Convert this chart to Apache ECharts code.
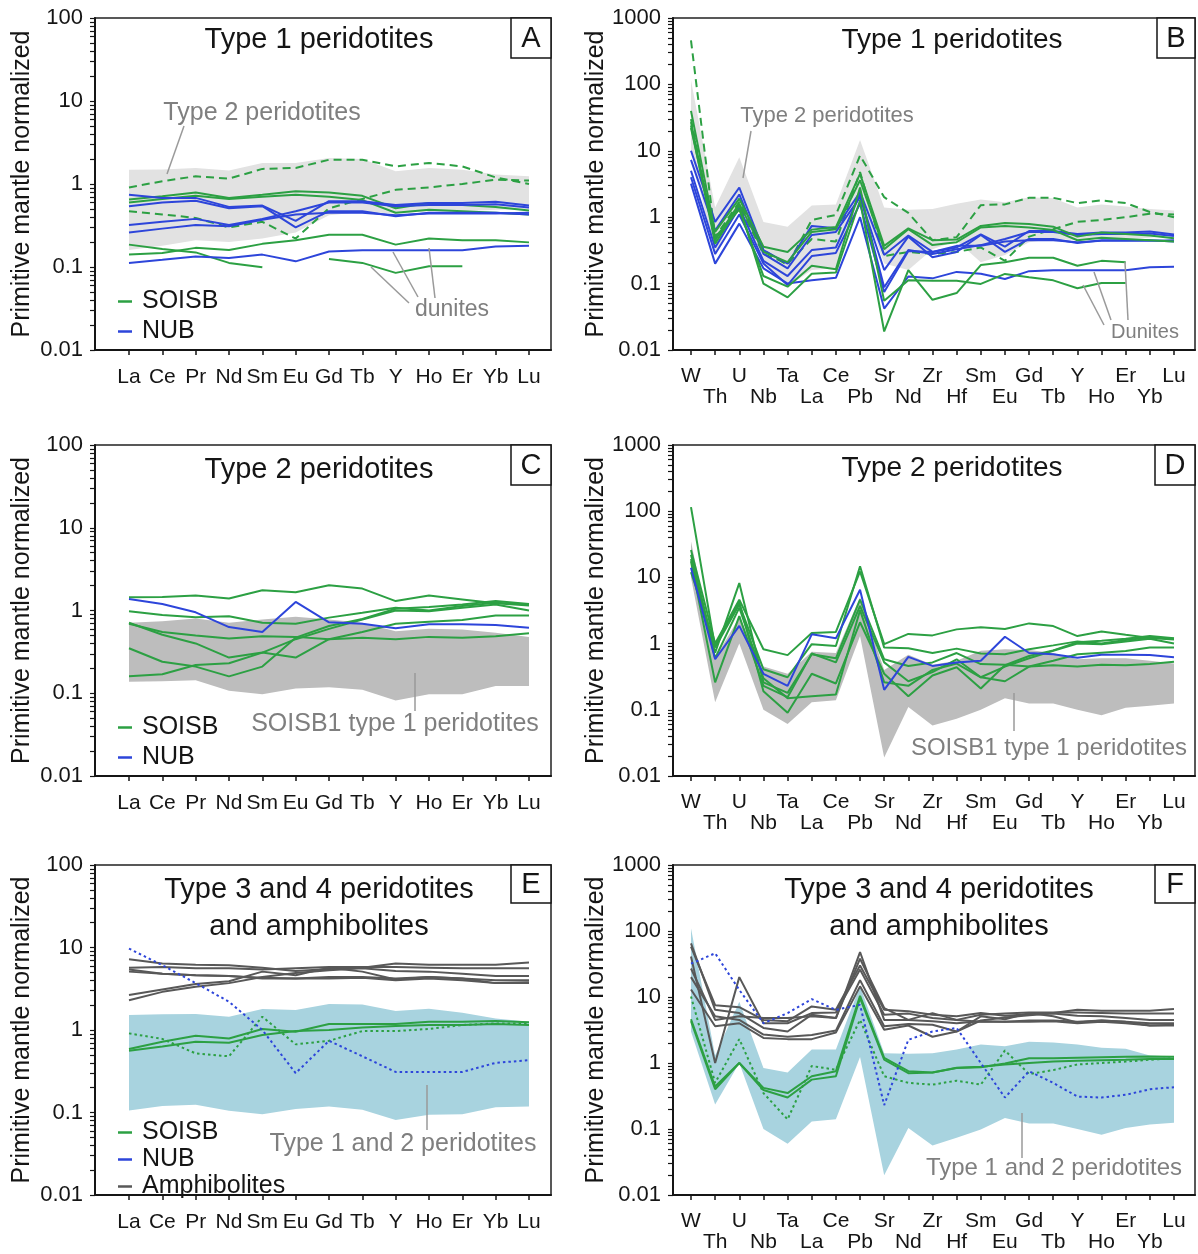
<!DOCTYPE html>
<html><head><meta charset="utf-8">
<script src="https://cdn.jsdelivr.net/npm/echarts@6/dist/echarts.min.js"></script>
<style>html,body{margin:0;padding:0;background:#fff}#c{width:1198px;height:1254px}</style>
</head><body><div id="c"></div>
<script>
// ---------- categories ----------
const REE = ['La','Ce','Pr','Nd','Sm','Eu','Gd','Tb','Y','Ho','Er','Yb','Lu'];
const EXT = ['W','Th','U','Nb','Ta','La','Ce','Pb','Sr','Nd','Zr','Hf','Sm','Eu','Gd','Tb','Y','Ho','Er','Yb','Lu'];
const Y_LABELS_L = [0.01,0.1,1,10,100];
const Y_LABELS_R = [0.01,0.1,1,10,100,1000];

// ---------- Panel A (REE, Type 1) ----------
const A_band_hi = [1.49,1.5,1.56,1.45,1.79,1.79,2.06,2.0,1.42,1.56,1.49,1.3,1.24];
const A_band_lo = [0.16,0.18,0.21,0.2,0.22,0.26,0.42,0.46,0.44,0.47,0.47,0.49,0.5];
const A_gd1 = [0.91,1.08,1.24,1.16,1.52,1.56,1.96,1.96,1.63,1.79,1.63,1.2,1.0];
const A_gd2 = [0.47,0.43,0.39,0.30,0.35,0.22,0.51,0.66,0.85,0.91,1.0,1.13,1.1];
const A_gs1 = [0.65,0.71,0.79,0.68,0.74,0.82,0.79,0.72,0.51,0.59,0.56,0.53,0.48];
const A_gs2 = [0.6,0.66,0.72,0.66,0.7,0.74,0.7,0.64,0.45,0.49,0.47,0.45,0.43];
const A_gs3 = [0.186,0.165,0.15,0.112,0.099,null,0.125,0.112,0.085,0.102,0.102,null,null];
const A_gs4 = [0.141,0.147,0.17,0.16,0.19,0.21,0.245,0.245,0.186,0.22,0.21,0.21,0.198];
const A_b1 = [0.74,0.68,0.68,0.53,0.55,0.36,0.62,0.62,0.56,0.59,0.59,0.61,0.55];
const A_b2 = [0.54,0.6,0.63,0.51,0.54,0.3,0.47,0.47,0.41,0.45,0.45,0.45,0.43];
const A_b3 = [0.32,0.35,0.38,0.32,0.38,0.47,0.6,0.6,0.54,0.56,0.56,0.57,0.52];
const A_b4 = [0.26,0.29,0.32,0.31,0.37,0.43,0.45,0.45,0.42,0.44,0.44,0.44,0.45];
const A_b5 = [0.112,0.122,0.134,0.128,0.141,0.117,0.154,0.159,0.159,0.159,0.159,0.177,0.18];

// ---------- Panel B (extended, Type 1) ----------
const B_band_hi = [115,1.4,8,0.85,0.72,1.5,1.55,14.6,1.4,1.3,1.33,1.6,1.85,1.68,2.0,1.93,1.4,1.55,1.45,1.33,1.26];
const B_band_lo = [10,0.26,1.8,0.2,0.09,0.16,0.17,2.1,0.2,0.16,0.33,0.44,0.21,0.27,0.42,0.47,0.45,0.48,0.47,0.49,0.53];
const B_gd1 = [460,0.5,1.7,0.32,0.19,0.91,1.08,8.5,2.0,1.16,0.45,0.5,1.52,1.56,1.96,1.96,1.63,1.79,1.63,1.2,1.0];
const B_gd2 = [30,0.45,1.5,0.28,0.2,0.47,0.43,4.8,0.26,0.30,0.28,0.3,0.35,0.22,0.51,0.66,0.85,0.91,1.0,1.13,1.1];
const B_gs1 = [40,0.6,1.9,0.36,0.3,0.65,0.71,4.5,0.37,0.68,0.45,0.46,0.74,0.82,0.79,0.72,0.51,0.59,0.56,0.53,0.48];
const B_gs2 = [27,0.45,1.6,0.3,0.21,0.6,0.66,3.6,0.33,0.66,0.38,0.42,0.7,0.74,0.7,0.64,0.45,0.49,0.47,0.45,0.43];
const B_gs3 = [22,0.5,1.3,0.13,0.09,0.186,0.165,2.8,0.055,0.112,0.11,0.11,0.099,0.14,0.125,0.112,0.085,0.102,0.102,null,null];
const B_gs4 = [24,0.4,1.5,0.1,0.062,0.141,0.147,1.8,0.019,0.16,0.057,0.072,0.19,0.21,0.245,0.245,0.186,0.22,0.21,null,null];
const B_b1 = [10,0.85,2.8,0.32,0.2,0.74,0.68,2.4,0.27,0.53,0.3,0.35,0.55,0.36,0.62,0.62,0.56,0.59,0.59,0.61,0.55];
const B_b2 = [7.3,0.63,2.2,0.28,0.17,0.54,0.6,2.0,0.16,0.51,0.25,0.3,0.54,0.3,0.47,0.47,0.41,0.45,0.45,0.45,0.43];
const B_b3 = [5,0.35,1.4,0.22,0.13,0.32,0.35,2.2,0.088,0.32,0.28,0.33,0.38,0.47,0.6,0.6,0.54,0.56,0.56,0.57,0.52];
const B_b4 = [4,0.28,1.1,0.2,0.095,0.26,0.29,1.6,0.075,0.31,0.3,0.37,0.37,0.43,0.45,0.45,0.42,0.44,0.44,0.44,0.45];
const B_b5 = [3.2,0.2,0.8,0.17,0.1,0.112,0.122,1.0,0.042,0.128,0.12,0.15,0.141,0.117,0.154,0.159,0.159,0.159,0.159,0.177,0.18];

// ---------- Panel C (REE, Type 2) ----------
const C_band_hi = [0.71,0.74,0.8,0.71,0.78,0.84,0.78,0.71,0.56,0.6,0.59,0.54,0.48];
const C_band_lo = [0.138,0.14,0.144,0.107,0.097,0.114,0.118,0.11,0.082,0.097,0.097,0.122,0.122];
const C_g1 = [1.45,1.46,1.52,1.4,1.76,1.66,2.02,1.84,1.3,1.52,1.36,1.22,1.15];
const C_g2 = [0.98,0.88,0.83,0.85,0.71,0.69,0.82,0.94,1.08,1.0,1.13,1.24,1.18];
const C_g3 = [0.69,0.55,0.5,0.46,0.49,0.48,0.45,0.47,0.45,0.48,0.47,0.49,0.53];
const C_g4 = [0.71,0.51,0.4,0.27,0.31,0.27,0.45,0.55,0.69,0.73,0.77,0.87,0.87];
const C_g5 = [0.35,0.24,0.21,0.16,0.21,0.47,0.65,0.79,1.05,1.1,1.18,1.3,1.2];
const C_g6 = [0.16,0.17,0.22,0.23,0.31,0.45,0.6,0.78,1.0,0.98,1.08,1.18,1.0];
const C_b1 = [1.38,1.2,0.95,0.63,0.55,1.27,0.72,0.69,0.61,0.68,0.68,0.67,0.62];

// ---------- Panel D (extended, Type 2) ----------
const D_band_hi = [35,0.6,2.5,0.45,0.35,0.75,0.72,5,0.4,0.68,0.48,0.55,0.78,0.82,0.8,0.72,0.58,0.6,0.6,0.55,0.5];
const D_band_lo = [10,0.13,1.0,0.1,0.061,0.13,0.14,1.3,0.019,0.11,0.058,0.073,0.1,0.15,0.125,0.125,0.1,0.083,0.107,0.115,0.125];
const D_g1 = [26,1.0,4.6,0.82,0.67,1.45,1.5,12.3,0.98,1.4,1.33,1.64,1.76,1.66,2.02,1.84,1.3,1.52,1.36,1.22,1.15];
const D_g2 = [115,0.87,3.9,0.41,0.31,0.98,0.92,14.7,0.87,0.85,0.72,0.84,0.71,0.69,0.82,0.94,1.08,1.0,1.13,1.24,1.18];
const D_g3 = [22,0.73,8.2,0.26,0.18,0.69,0.6,4.6,0.58,0.46,0.52,0.72,0.49,0.48,0.45,0.47,0.45,0.48,0.47,0.49,0.53];
const D_g4 = [17.5,0.26,2.6,0.23,0.155,0.71,0.52,3.7,0.52,0.27,0.37,0.58,0.31,0.27,0.45,0.55,0.69,0.73,0.77,0.87,0.87];
const D_g5 = [12,0.95,4.2,0.19,0.09,0.35,0.25,2.1,0.35,0.16,0.33,0.44,0.21,0.47,0.65,0.79,1.05,1.1,1.18,1.3,1.2];
const D_g6 = [19,0.6,3.5,0.3,0.15,0.16,0.17,3.2,0.26,0.23,0.4,0.5,0.31,0.45,0.6,0.78,1.0,0.98,1.08,1.18,1.0];
const D_b1 = [14,0.58,1.85,0.35,0.23,1.38,1.2,6.5,0.2,0.63,0.46,0.52,0.55,1.27,0.72,0.69,0.61,0.68,0.68,0.67,0.62];

// ---------- Panel E (REE, Type 3/4 + amphibolites) ----------
const E_band_hi = [1.52,1.55,1.56,1.45,1.8,1.75,2.06,2.04,1.7,1.81,1.62,1.38,1.26];
const E_band_lo = [0.106,0.12,0.124,0.105,0.095,0.11,0.118,0.108,0.081,0.094,0.095,0.116,0.118];
const E_am1 = [7.2,6.4,6.2,6.1,5.7,5.2,5.5,5.7,6.4,6.2,6.2,6.2,6.6];
const E_am2 = [5.7,5.8,5.6,5.6,5.4,5.6,5.8,5.8,5.8,5.7,5.6,5.6,5.6];
const E_am3 = [5.4,4.8,4.6,4.5,4.3,4.2,4.4,4.4,4.2,4.4,4.2,4.0,4.0];
const E_am4 = [2.65,3.1,3.6,3.9,5.1,4.6,5.7,5.1,4.1,4.4,4.2,3.7,3.8];
const E_am5 = [2.3,2.9,3.35,3.7,4.4,4.9,5.3,5.6,5.2,5.1,4.8,4.5,4.5];
const E_am6 = [5.1,4.8,4.6,4.5,4.2,4.2,4.2,4.3,4.0,4.2,4.0,3.7,3.7];
const E_g1 = [0.59,0.72,0.85,0.79,1.03,0.95,1.18,1.18,1.18,1.26,1.26,1.29,1.24];
const E_g2 = [0.56,0.63,0.72,0.7,0.87,0.97,1.0,1.07,1.12,1.15,1.15,1.18,1.15];
const E_gdot = [0.91,0.78,0.52,0.48,1.45,0.67,0.74,0.97,0.97,1.03,1.15,1.2,1.2];
const E_bdot = [9.7,6.1,3.7,2.2,1.0,0.3,0.74,0.48,0.31,0.31,0.31,0.4,0.43];

// ---------- Panel F (extended, Type 3/4 + amphibolites) ----------
const F_band_hi = [110,1.3,8.5,0.84,0.72,1.6,1.6,14.7,1.4,1.38,1.4,1.6,1.9,1.8,2.1,2.05,1.9,1.7,1.65,1.3,1.26];
const F_band_lo = [3,0.235,1.0,0.1,0.06,0.13,0.14,1.23,0.02,0.104,0.056,0.074,0.098,0.147,0.121,0.121,0.1,0.082,0.104,0.117,0.124];
const F_am1 = [58,7.5,7.0,4.5,4.3,7.2,6.4,30,6.4,6.1,5.4,5.1,5.7,5.2,5.5,5.7,6.4,6.2,6.2,6.2,6.6];
const F_am2 = [41,1.0,20,4.0,4.0,5.7,5.8,26,5.4,5.6,4.8,4.5,5.4,5.6,5.8,5.8,5.8,5.7,5.6,5.6,5.6];
const F_am3 = [65,6.4,5.7,3.4,3.0,5.4,4.8,48,4.5,4.5,4.3,4.0,4.3,4.2,4.4,4.4,4.2,4.4,4.2,4.0,4.0];
const F_am4 = [20,5.1,4.5,2.7,2.5,2.65,3.1,18,3.6,3.9,3.8,3.0,5.1,4.6,5.7,5.1,4.1,4.4,4.2,3.7,3.8];
const F_am5 = [13,3.6,4.0,2.4,2.3,2.3,2.9,14.5,3.2,3.7,2.5,3.0,4.4,4.9,5.3,5.6,5.2,5.1,4.8,4.5,4.5];
const F_am6 = [27,4.5,5.1,4.8,4.8,5.1,4.8,38,6.8,4.5,5.7,4.5,4.2,4.2,4.2,4.3,4.0,4.2,4.0,3.7,3.7];
const F_g1 = [4.6,0.44,1.0,0.42,0.35,0.63,0.75,10.4,1.2,0.75,0.72,0.84,0.86,0.98,1.18,1.18,1.2,1.22,1.24,1.26,1.24];
const F_g2 = [4.3,0.4,1.0,0.39,0.3,0.56,0.63,9.6,1.12,0.7,0.72,0.85,0.88,0.95,1.0,1.05,1.08,1.1,1.12,1.15,1.15];
const F_gdot = [10.2,0.5,2.3,0.35,0.14,0.9,0.79,4.5,0.63,0.5,0.47,0.54,0.47,1.55,0.68,0.78,0.95,1.0,1.05,1.12,1.18];
const F_bdot = [32,46,12.8,4.0,5.7,9.3,6.4,7.6,0.23,2.25,3.0,3.4,1.0,0.3,0.75,0.5,0.31,0.3,0.33,0.4,0.43];

// ---------- styling ----------
const GREEN = '#2ca043', BLUE = '#2d45da', AMPH = '#585858';
const FONT = "'Liberation Sans', Arial, Helvetica, sans-serif";
const INK = '#151515';

const gridsCfg = [
  {left:95, top:18, width:456, height:332},
  {left:673, top:18, width:522, height:332},
  {left:95, top:445, width:456, height:331},
  {left:673, top:445, width:522, height:331},
  {left:95, top:865, width:456, height:330},
  {left:673, top:865, width:522, height:330}
];

function tickVals(maxExp){
  const out = [];
  for (let e = -2; e < maxExp; e++) for (let m = 1; m < 10; m++) out.push(parseFloat((m * Math.pow(10, e)).toPrecision(3)));
  out.push(Math.pow(10, maxExp));
  return out;
}

function yAx(i, right){
  const labels = right ? Y_LABELS_R : Y_LABELS_L;
  return {
    type:'log', logBase:10, gridIndex:i, min:0.01, max: right ? 1000 : 100,
    name:'Primitive mantle normalized', nameLocation:'middle', nameGap: right ? 59 : 60,
    nameTextStyle:{fontSize:25, fontFamily:FONT, color:INK},
    axisLine:{show:true, onZero:false, lineStyle:{color:INK, width:2}},
    axisTick:{show:true, inside:false, length:5, lineStyle:{color:INK, width:1.2}, customValues: tickVals(right ? 3 : 2)},
    axisLabel:{customValues: labels, formatter: v => String(v), fontSize:22, fontFamily:FONT, color:INK, margin:12,
      showMinLabel:true, showMaxLabel:true},
    splitLine:{show:false}, minorTick:{show:false}
  };
}

// main x axis: line, all ticks, labels (all for REE; even-index row for extended)
function xAx(i, cats, right){
  const idx = cats.map((c, k) => k);
  const lab = right ? idx.filter(k => k % 2 === 0) : idx;
  return {
    type:'value', gridIndex:i, position:'bottom',
    min: right ? -0.745 : -1.02, max: right ? 20.87 : 12.66,
    axisLine:{show:true, onZero:false, lineStyle:{color:INK, width:2}},
    axisTick:{show:true, inside:false, length:5, lineStyle:{color:INK, width:1.5}, customValues: idx},
    axisLabel:{customValues: lab, fontSize:21, fontFamily:FONT, color:INK, margin: right ? 16 : 17, lineHeight:21,
      showMinLabel:true, showMaxLabel:true, hideOverlap:false,
      formatter: v => cats[Math.round(v)]},
    splitLine:{show:false}
  };
}
// second label row (odd indices) for the extended panels
function xAxRow2(i, cats){
  const lab = cats.map((c, k) => k).filter(k => k % 2 === 1);
  return {
    type:'value', gridIndex:i, position:'bottom', offset:0,
    min:-0.745, max:20.87,
    axisLine:{show:false, onZero:false}, axisTick:{show:false},
    axisLabel:{customValues: lab, fontSize:21, fontFamily:FONT, color:INK, margin:37, lineHeight:21,
      showMinLabel:true, showMaxLabel:true, hideOverlap:false,
      formatter: v => cats[Math.round(v)]},
    splitLine:{show:false}
  };
}

function line(gi, vals, name, color, type){
  return {
    type:'line', name, xAxisIndex:gi, yAxisIndex:gi,
    data: vals.map((v, k) => [k, v == null ? '-' : v]),
    showSymbol:false, symbol:'none', connectNulls:false, silent:true, z:3,
    color, itemStyle:{color},
    lineStyle:{color, width:2, type: type || 'solid', dashOffset:0}
  };
}

function band(gi, hi, lo, color){
  return {
    type:'custom', name:'band' + gi, xAxisIndex:gi, yAxisIndex:gi, silent:true, z:1,
    data:[[0, hi[0]]],
    renderItem: (params, api) => {
      const pts = [];
      for (let k = 0; k < hi.length; k++) pts.push(api.coord([k, hi[k]]));
      for (let k = lo.length - 1; k >= 0; k--) pts.push(api.coord([k, lo[k]]));
      return {type:'polygon', shape:{points:pts}, style:{fill:color}};
    }
  };
}

const DASH = [8,5], DOT = [2.5,3];
const series = [
  band(0, A_band_hi, A_band_lo, '#e2e2e2'),
  line(0, A_gd1, 'SOISB', GREEN, DASH), line(0, A_gd2, 'SOISB', GREEN, DASH),
  line(0, A_gs1, 'SOISB', GREEN), line(0, A_gs2, 'SOISB', GREEN), line(0, A_gs3, 'SOISB', GREEN), line(0, A_gs4, 'SOISB', GREEN),
  line(0, A_b1, 'NUB', BLUE), line(0, A_b2, 'NUB', BLUE), line(0, A_b3, 'NUB', BLUE), line(0, A_b4, 'NUB', BLUE), line(0, A_b5, 'NUB', BLUE),

  band(1, B_band_hi, B_band_lo, '#e2e2e2'),
  line(1, B_gd1, 'SOISB', GREEN, DASH), line(1, B_gd2, 'SOISB', GREEN, DASH),
  line(1, B_b1, 'NUB', BLUE), line(1, B_b2, 'NUB', BLUE), line(1, B_b3, 'NUB', BLUE), line(1, B_b4, 'NUB', BLUE), line(1, B_b5, 'NUB', BLUE),
  line(1, B_gs1, 'SOISB', GREEN), line(1, B_gs2, 'SOISB', GREEN), line(1, B_gs3, 'SOISB', GREEN), line(1, B_gs4, 'SOISB', GREEN),

  band(2, C_band_hi, C_band_lo, '#bdbdbd'),
  line(2, C_g1, 'SOISB', GREEN), line(2, C_g2, 'SOISB', GREEN), line(2, C_g3, 'SOISB', GREEN),
  line(2, C_g4, 'SOISB', GREEN), line(2, C_g5, 'SOISB', GREEN), line(2, C_g6, 'SOISB', GREEN),
  line(2, C_b1, 'NUB', BLUE),

  band(3, D_band_hi, D_band_lo, '#bdbdbd'),
  line(3, D_g1, 'SOISB', GREEN), line(3, D_g2, 'SOISB', GREEN), line(3, D_g3, 'SOISB', GREEN),
  line(3, D_g4, 'SOISB', GREEN), line(3, D_g5, 'SOISB', GREEN), line(3, D_g6, 'SOISB', GREEN),
  line(3, D_b1, 'NUB', BLUE),

  band(4, E_band_hi, E_band_lo, '#a8d3df'),
  line(4, E_am1, 'Amphibolites', AMPH), line(4, E_am2, 'Amphibolites', AMPH), line(4, E_am3, 'Amphibolites', AMPH),
  line(4, E_am4, 'Amphibolites', AMPH), line(4, E_am5, 'Amphibolites', AMPH), line(4, E_am6, 'Amphibolites', AMPH),
  line(4, E_g1, 'SOISB', GREEN), line(4, E_g2, 'SOISB', GREEN), line(4, E_gdot, 'SOISB', GREEN, DOT),
  line(4, E_bdot, 'NUB', BLUE, DOT),

  band(5, F_band_hi, F_band_lo, '#a8d3df'),
  line(5, F_am1, 'Amphibolites', AMPH), line(5, F_am2, 'Amphibolites', AMPH), line(5, F_am3, 'Amphibolites', AMPH),
  line(5, F_am4, 'Amphibolites', AMPH), line(5, F_am5, 'Amphibolites', AMPH), line(5, F_am6, 'Amphibolites', AMPH),
  line(5, F_g1, 'SOISB', GREEN), line(5, F_g2, 'SOISB', GREEN), line(5, F_gdot, 'SOISB', GREEN, DOT),
  line(5, F_bdot, 'NUB', BLUE, DOT)
];

function legendCfg(names, top, gap){
  return {
    data: names.map(n => ({name:n, icon:'rect', itemStyle:{color: n === 'SOISB' ? GREEN : n === 'NUB' ? BLUE : AMPH, borderWidth:0}})),
    left:113, top, orient:'vertical', itemWidth:14, itemHeight:2.5, itemGap:gap, selectedMode:false,
    textStyle:{fontSize:25, fontFamily:FONT, color:INK, lineHeight:25, padding:[0,0,0,5]}
  };
}

function txt(x, y, s, size, color){
  return {type:'text', x, y, silent:true, z:10, style:{text:s, fontSize:size, fontFamily:FONT, fill:color || INK, align:'center', verticalAlign:'middle'}};
}
function seg(x1, y1, x2, y2){
  return {type:'line', silent:true, z:10, shape:{x1, y1, x2, y2}, style:{stroke:'#9a9a9a', lineWidth:1.5}};
}
function box(x, y, w, h, letter){
  return [
    {type:'rect', silent:true, z:10, shape:{x, y, width:w, height:h}, style:{fill:'#fff', stroke:INK, lineWidth:1.5}},
    txt(x + w / 2, y + h / 2 + 1, letter, 29)
  ];
}
const GREY = '#7f7f7f';
const graphic = [
  txt(319, 40, 'Type 1 peridotites', 29),
  txt(952, 40, 'Type 1 peridotites', 28),
  txt(319, 470, 'Type 2 peridotites', 29),
  txt(952, 468, 'Type 2 peridotites', 28),
  txt(319, 890, 'Type 3 and 4 peridotites', 29),
  txt(319, 927, 'and amphibolites', 29),
  txt(939, 890, 'Type 3 and 4 peridotites', 29),
  txt(939, 927, 'and amphibolites', 29),
  ...box(511, 18, 40, 40, 'A'),
  ...box(1157, 18, 38, 40, 'B'),
  ...box(511, 445, 40, 40, 'C'),
  ...box(1155, 445, 40, 40, 'D'),
  ...box(511, 865, 40, 38, 'E'),
  ...box(1155, 865, 40, 38, 'F'),
  txt(262, 113, 'Type 2 peridotites', 25, GREY), seg(184, 126, 167, 174),
  txt(452, 310, 'dunites', 23, GREY), seg(409, 303, 371, 267), seg(418, 297, 393, 252), seg(435, 298, 429, 248),
  txt(827, 116, 'Type 2 peridotites', 22, GREY), seg(751, 131, 743, 178),
  txt(1145, 332, 'Dunites', 20, GREY), seg(1104, 325, 1083, 285), seg(1111, 320, 1094, 272), seg(1128, 320, 1125, 262),
  txt(395, 724, 'SOISB1 type 1 peridotites', 25, GREY), seg(415, 673, 415, 711),
  txt(1049, 748, 'SOISB1 type 1 peridotites', 24, GREY), seg(1014, 693, 1014, 731),
  txt(403, 1144, 'Type 1 and 2 peridotites', 25, GREY), seg(427, 1085, 427, 1130),
  txt(1054, 1168, 'Type 1 and 2 peridotites', 24, GREY), seg(1022, 1113, 1022, 1158)
];

const chart = echarts.init(document.getElementById('c'), null, {renderer:'canvas'});
chart.setOption({
  animation:false,
  backgroundColor:'#fff',
  grid: gridsCfg.map(g => Object.assign({show:true, borderColor:'#222', borderWidth:1.5, backgroundColor:'transparent'}, g)),
  xAxis: [xAx(0, REE, false), xAx(1, EXT, true), xAx(2, REE, false), xAx(3, EXT, true), xAx(4, REE, false), xAx(5, EXT, true),
          xAxRow2(1, EXT), xAxRow2(3, EXT), xAxRow2(5, EXT)],
  yAxis: [yAx(0, false), yAx(1, true), yAx(2, false), yAx(3, true), yAx(4, false), yAx(5, true)],
  legend: [
    legendCfg(['SOISB','NUB'], 284, 5),
    legendCfg(['SOISB','NUB'], 710, 5),
    legendCfg(['SOISB','NUB','Amphibolites'], 1115, 2)
  ],
  series,
  graphic
});
</script>
</body></html>
